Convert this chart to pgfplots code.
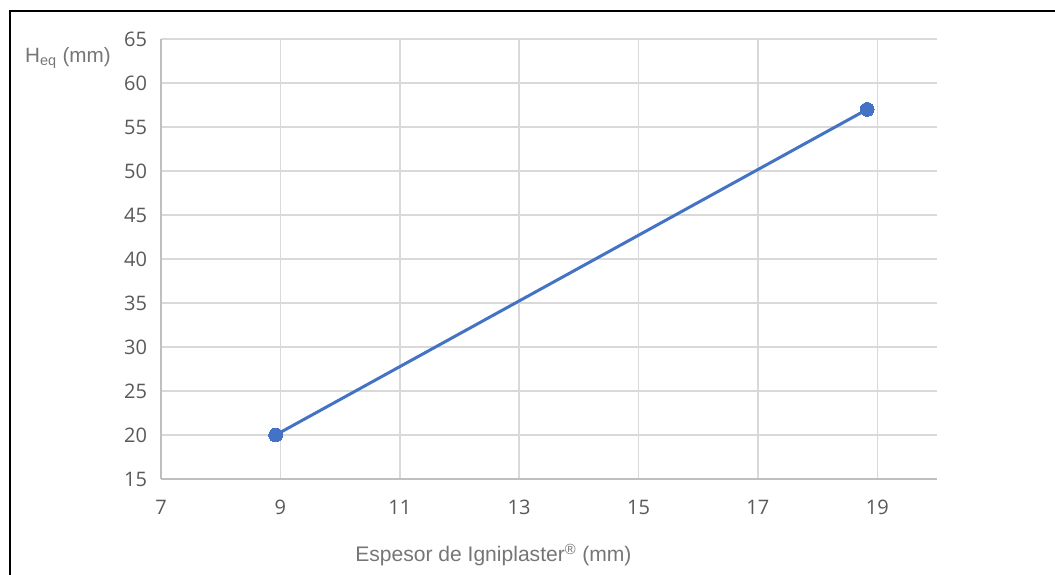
\documentclass[border=0pt]{standalone}
\usepackage{pgfplots}
\pgfplotsset{compat=1.18}
\usepackage{fontspec}
\setmainfont{Liberation Sans}
\newfontfamily\tickfont{Open Sans}
\definecolor{tickgray}{HTML}{595959}
\definecolor{titlegray}{HTML}{767676}
\definecolor{gridgray}{HTML}{D9D9D9}
\definecolor{axisgray}{HTML}{BFBFBF}
\definecolor{serieblue}{HTML}{4472C4}
\begin{document}
\begin{tikzpicture}
\useasboundingbox (0,0) rectangle (791.25pt,430.5pt);
\draw[line width=1.6pt,black] (7.5pt,-2pt) -- (7.5pt,422.25pt) -- (793pt,422.25pt);
\begin{axis}[
  at={(120.75pt,71.25pt)}, anchor=south west,
  scale only axis, width=582pt, height=330pt,
  xmin=7, xmax=20, ymin=15, ymax=65,
  xtick={7,9,11,13,15,17,19},
  ytick={15,20,...,65},
  grid=major,
  major grid style={gridgray, line width=1.1pt},
  axis x line*=bottom, axis y line*=left,
  axis line style={axisgray, line width=1.3pt, -},
  tick style={draw=none},
  tick label style={font=\tickfont\fontsize{15pt}{17pt}\selectfont, text=tickgray},
  /pgf/number format/assume math mode=true,
  xticklabel style={yshift=-12.5pt},
  yticklabel style={xshift=-7pt},
  clip=false,
]
\addplot[serieblue, line width=2.25pt, mark=*, mark size=5.2pt, mark options={fill=serieblue, draw=serieblue, line width=0pt}]
  coordinates {(8.92,20) (18.83,57)};
\end{axis}
\node[text=titlegray, font=\fontsize{15.5pt}{18pt}\selectfont] at (51pt,387pt) {H\textsubscript{eq} (mm)};
\node[text=titlegray, font=\fontsize{15.8pt}{18pt}\selectfont] at (370pt,14pt) {Espesor de Igniplaster\textsuperscript{\textregistered} (mm)};
\end{tikzpicture}
\end{document}
